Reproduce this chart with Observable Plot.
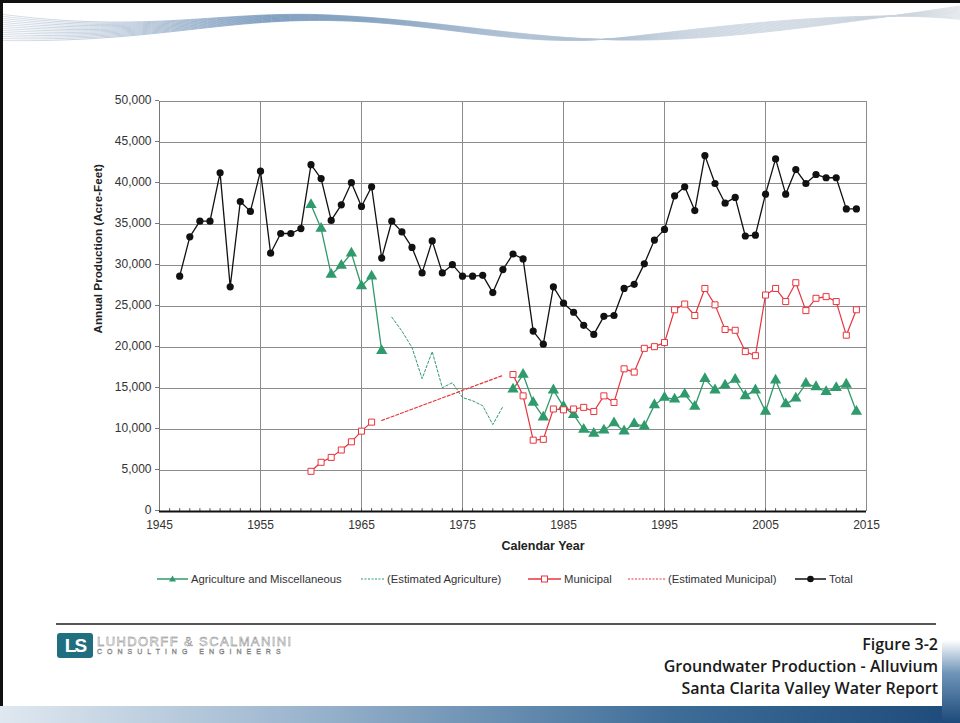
<!DOCTYPE html>
<html>
<head>
<meta charset="utf-8">
<script src="https://cdn.jsdelivr.net/npm/d3@7"></script>
<script src="https://cdn.jsdelivr.net/npm/@observablehq/plot@0.6"></script>
<style>
  html, body { margin: 0; padding: 0; background: #fff; }
  body { width: 960px; height: 723px; position: relative; overflow: hidden; font-family: "Liberation Sans", Arial, sans-serif; }
  #chart { position: absolute; left: 0; top: 0; }
  #chart svg { font-family: "Liberation Sans", Arial, sans-serif; }
  .legend { position: absolute; top: 573px; left: 0; font-size: 11.3px; color: #333; height: 16px; }
  .legend .item { position: absolute; top: 0; white-space: nowrap; display: flex; align-items: center; }
  .legend svg { margin-right: 2px; }
  .border-top { position: absolute; left: 0; top: 0; width: 960px; height: 3px; background: #111; }
  .border-left { position: absolute; left: 0; top: 0; width: 3px; height: 723px; background: #111; }
  .rule { position: absolute; left: 56px; top: 623px; width: 880px; height: 2px; background: #555; }
  .logo { position: absolute; left: 57px; top: 633px; width: 36px; height: 25px; background: #1f6f80; border-radius: 3px; color: #fff; font: bold 19px "Liberation Sans", Arial, sans-serif; text-align: center; line-height: 25px; letter-spacing: -2px; }
  .firm { position: absolute; left: 97px; top: 634px; font: 13px "Liberation Sans", Arial, sans-serif; color: #fff; -webkit-text-stroke: 0.45px #777; letter-spacing: 1.4px; }
  .firm2 { position: absolute; left: 97px; top: 648px; font: 7px "Liberation Sans", Arial, sans-serif; color: #fff; -webkit-text-stroke: 0.45px #777; letter-spacing: 5px; }
  .fig { position: absolute; right: 22px; text-align: right; font: 600 16px "Open Sans", sans-serif; color: #1a1a1a; white-space: nowrap; }
  .band { position: absolute; left: 0; top: 706px; width: 960px; height: 17px; background: linear-gradient(90deg, #dfe8f0 0%, #9fb8d0 30%, #3e6d98 70%, #1d4a7a 100%); }
  .band2 { position: absolute; left: 942px; top: 640px; width: 18px; height: 83px; background: linear-gradient(180deg, #ffffff 0%, #6f94b8 40%, #1d4a7a 100%); }
  .panel { position: absolute; left: 25px; top: 600px; width: 917px; height: 106px; background: #fff; }
</style>
</head>
<body>
<svg id="deco" width="960" height="60" style="position:absolute;left:0;top:0"></svg>
<div class="border-top"></div>
<div class="border-left"></div>
<div id="chart"></div>
<div class="legend" id="legend"></div>
<div class="band"></div>
<div class="band2"></div>
<div class="panel"></div>
<div class="rule"></div>
<div class="logo">LS</div>
<div class="firm">LUHDORFF &amp; SCALMANINI</div>
<div class="firm2">CONSULTING ENGINEERS</div>
<div class="fig" style="top:633px">Figure 3-2</div>
<div class="fig" style="top:655px">Groundwater Production - Alluvium</div>
<div class="fig" style="top:677px">Santa Clarita Valley Water Report</div>
<script>
// ---------- data (acre-feet) ----------
const totalYears = d3.range(1947, 2015);
const totalValues = [28700,33500,35400,35400,41300,27400,37800,36600,41500,31500,
  33900,33900,34500,42300,40600,35500,37400,40100,37200,39600,
  30900,35400,34100,32200,29100,33000,29100,30100,28700,28700,
  28800,26700,29500,31400,30800,22000,20400,27400,25400,24300,
  22700,21600,23800,23900,27200,27700,30200,33100,34400,38500,
  39600,36700,43400,40000,37600,38300,33600,33700,38700,43000,
  38700,41700,40000,41100,40700,40700,36900,36900];

const agEarlyYears = d3.range(1960, 1968);
const agEarlyValues = [37400,34500,28900,30000,31500,27500,28700,19600];
const agLateYears = d3.range(1980, 2015);
const agLateValues = [14900,16700,13300,11500,14800,12800,11800,10000,9500,9900,
  10800,9800,10700,10400,13000,13900,13700,14300,12800,16200,
  14800,15400,16100,14100,14800,12200,16000,13100,13800,15600,
  15200,14600,15100,15500,12200];

const estAgYears = d3.range(1968, 1980);
const estAgValues = [23700,22000,20000,16200,19500,15100,15700,13900,13500,12900,10600,12800];

const munEarlyYears = d3.range(1960, 1967);
const munEarlyValues = [4900,6000,6600,7500,8500,9800,10900];
const munLateYears = d3.range(1980, 2015);
const munLateValues = [16700,14100,8700,8800,12500,12400,12500,12700,12200,14100,
  13300,17400,17000,19900,20100,20600,24600,25300,23900,27200,
  25200,22200,22100,19500,19000,26400,27200,25600,27900,24500,
  26000,26200,25600,21500,24600];

const estMunYears = [1967, 1979];
const estMunValues = [11100, 16600];

const xTicks = [1945,1955,1965,1975,1985,1995,2005,2015];
const yTicks = [0,5000,10000,15000,20000,25000,30000,35000,40000,45000,50000];
const seriesNames = ["Agriculture and Miscellaneous","(Estimated Agriculture)","Municipal","(Estimated Municipal)","Total"];
const xTitle = "Calendar Year";
const yTitle = "Annual Production (Acre-Feet)";

const GREEN = "#2f9a6c", RED = "#e8343c", BLACK = "#111";

const zip = (xs, ys, seg) => xs.map((x, i) => ({year: x, value: ys[i], seg}));
const total = zip(totalYears, totalValues, "t");
const ag = zip(agEarlyYears, agEarlyValues, "a1").concat(zip(agLateYears, agLateValues, "a2"));
const estAg = zip(estAgYears, estAgValues, "ea");
const mun = zip(munEarlyYears, munEarlyValues, "m1").concat(zip(munLateYears, munLateValues, "m2"));
const estMun = zip(estMunYears, estMunValues, "em");

const chart = Plot.plot({
  width: 960,
  height: 560,
  marginLeft: 159,
  marginRight: 94,
  marginTop: 101,
  marginBottom: 49,
  style: {fontSize: "12px", color: "#333", background: "transparent"},
  x: {domain: [1945, 2015]},
  y: {domain: [0, 50000]},
  marks: [
    Plot.gridY(yTicks, {stroke: "#8c8c8c", strokeOpacity: 1, strokeWidth: 1}),
    Plot.gridX(xTicks, {stroke: "#8c8c8c", strokeOpacity: 1, strokeWidth: 1}),
    Plot.ruleX([1945], {stroke: "#777"}),
    Plot.ruleX(d3.range(1946, 2015), {y1: 0, y2: 350, stroke: "#555"}),
    Plot.axisX(xTicks, {tickFormat: d => String(d), tickSize: 0, tickPadding: 9, label: null, fill: "#333"}),
    Plot.axisY(yTicks, {tickFormat: d3.format(","), tickSize: 4, tickPadding: 4, stroke: "#777", label: null, fill: "#333", dy: -1}),
    Plot.text([xTitle], {frameAnchor: "bottom", dx: 30, dy: 38, fontWeight: "bold", fontSize: 12.5, fill: "#222"}),
    Plot.text([yTitle], {frameAnchor: "left", rotate: -90, dx: -61, dy: 27, fontWeight: "bold", fontSize: 11.7, fill: "#222"}),
    Plot.ruleY([0], {stroke: "#111", strokeWidth: 2}),
    Plot.line(estAg, {x: "year", y: "value", stroke: GREEN, strokeWidth: 1, strokeDasharray: "2.5,2"}),
    Plot.line(estMun, {x: "year", y: "value", stroke: RED, strokeWidth: 1.2, strokeDasharray: "3,2"}),
    Plot.line(total, {x: "year", y: "value", z: "seg", stroke: BLACK, strokeWidth: 1.3}),
    Plot.dot(total, {x: "year", y: "value", r: 3.6, fill: BLACK, stroke: "none"}),
    Plot.line(ag, {x: "year", y: "value", z: "seg", stroke: GREEN, strokeWidth: 1.3}),
    Plot.dot(ag, {x: "year", y: "value", symbol: "triangle", r: 4.2, fill: GREEN, stroke: "none"}),
    Plot.line(mun, {x: "year", y: "value", z: "seg", stroke: RED, strokeWidth: 1.2}),
    Plot.dot(mun, {x: "year", y: "value", symbol: "square", r: 3.4, fill: "white", stroke: RED, strokeWidth: 1})
  ]
});
document.getElementById("chart").appendChild(chart);

// ---------- legend ----------
const legendPos = [156, 360, 527, 627, 794];
const swatches = [
  `<svg width="33" height="10"><line x1="1" y1="5" x2="32" y2="5" stroke="${GREEN}" stroke-width="1.5"/><path d="M16.5,1.5 L20,7.5 L13,7.5 Z" fill="${GREEN}"/></svg>`,
  `<svg width="25" height="10"><line x1="1" y1="5" x2="24" y2="5" stroke="${GREEN}" stroke-width="1" stroke-dasharray="2,1.5"/></svg>`,
  `<svg width="35" height="10"><line x1="1" y1="5" x2="34" y2="5" stroke="${RED}" stroke-width="1.5"/><rect x="14.5" y="2" width="6" height="6" fill="white" stroke="${RED}"/></svg>`,
  `<svg width="39" height="10"><line x1="1" y1="5" x2="38" y2="5" stroke="${RED}" stroke-width="1" stroke-dasharray="2,1.5"/></svg>`,
  `<svg width="33" height="10"><line x1="1" y1="5" x2="32" y2="5" stroke="${BLACK}" stroke-width="1.5"/><circle cx="16.5" cy="5" r="3.3" fill="${BLACK}"/></svg>`
];
const legend = document.getElementById("legend");
seriesNames.forEach((name, i) => {
  const el = document.createElement("div");
  el.className = "item";
  el.style.left = legendPos[i] + "px";
  el.innerHTML = swatches[i] + "<span>" + name + "</span>";
  legend.appendChild(el);
});

// ---------- decorative header waves ----------
const deco = d3.select("#deco");
const defs = deco.append("defs");
const grad = defs.append("linearGradient").attr("id", "wg").attr("x1", "0").attr("x2", "1");
grad.append("stop").attr("offset", "0").attr("stop-color", "#c3ceda");
grad.append("stop").attr("offset", "0.28").attr("stop-color", "#5f86b0");
grad.append("stop").attr("offset", "0.55").attr("stop-color", "#a9bcd0");
grad.append("stop").attr("offset", "1").attr("stop-color", "#d0d7df");
for (let i = 0; i < 14; i++) {
  const a = i * 1.7;
  deco.append("path")
    .attr("d", `M0,${14 + a * 1.2} C150,${34 + a * 0.4} 220,${10 + a * 0.4} 330,${15 + a * 0.25} S520,${38 + a * 0.5} 620,${40 - a * 0.1} S850,${22 - a * 0.6} 960,${6 + a * 0.6}`)
    .attr("fill", "none").attr("stroke", "url(#wg)").attr("stroke-width", 0.7).attr("opacity", 0.9);
}
</script>
</body>
</html>
